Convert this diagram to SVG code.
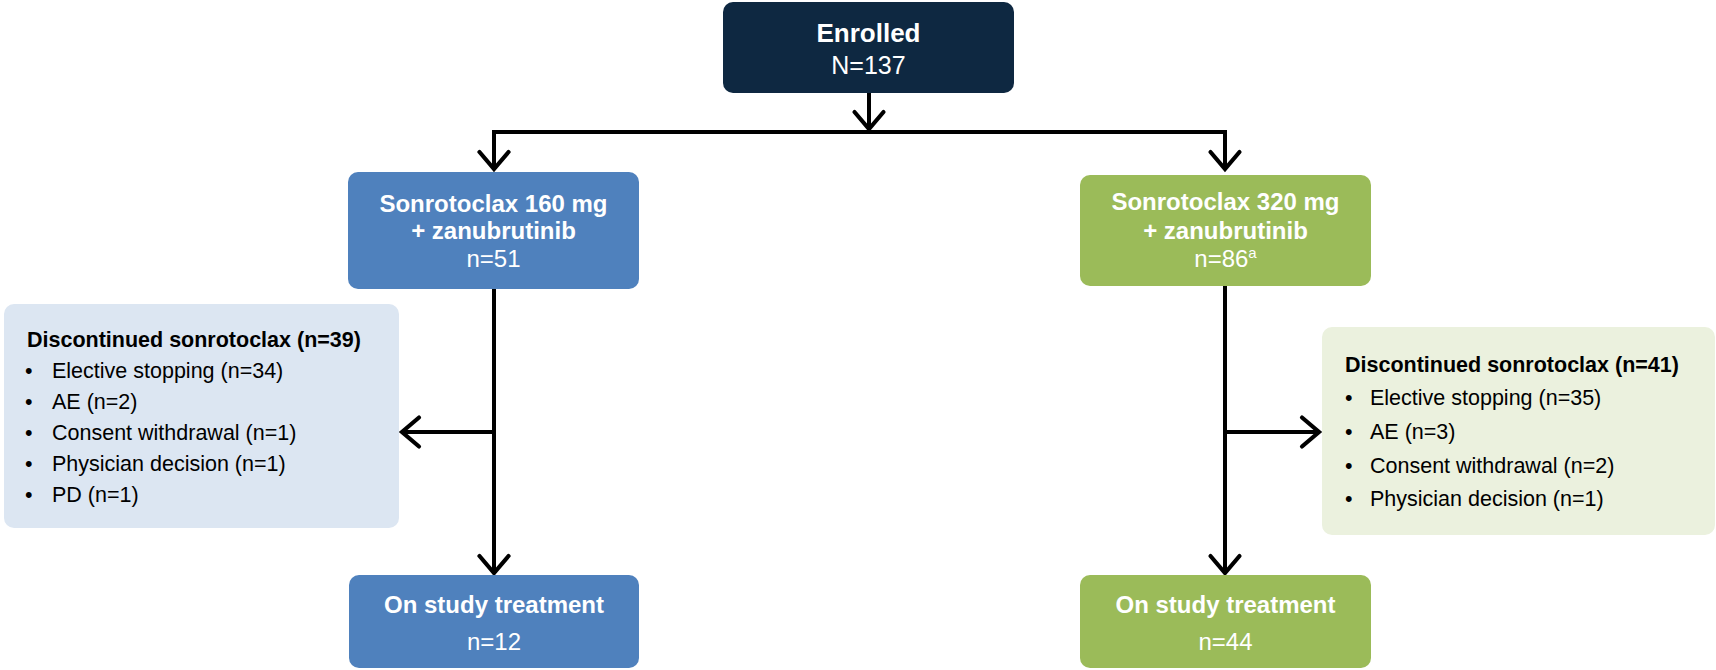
<svg xmlns="http://www.w3.org/2000/svg" width="1716" height="670" viewBox="0 0 1716 670">
<defs>
<style>
.t{font-family:"Liberation Sans",Arial,sans-serif;}
.w{fill:#ffffff;text-anchor:middle;}
.b{font-weight:bold;}
.lst{fill:#000000;font-size:21.5px;}
.conn{stroke:#000000;stroke-width:4;fill:none;stroke-linejoin:miter;}
</style>
<marker id="chev" viewBox="0 0 26 36" refX="20" refY="18" markerWidth="26" markerHeight="36" markerUnits="userSpaceOnUse" orient="auto">
<path d="M3,3.5 L20,18 L3,32.5" fill="none" stroke="#000000" stroke-width="4.2" stroke-linecap="round" stroke-linejoin="miter"/>
</marker>
</defs>
<rect width="1716" height="670" fill="#ffffff"/>

<g id="connectors">
<path class="conn" d="M869,93 V129" marker-end="url(#chev)"/>
<path class="conn" d="M869,132 H494 V169" marker-end="url(#chev)"/>
<path class="conn" d="M869,132 H1225 V169" marker-end="url(#chev)"/>
<path class="conn" d="M494,289 V573" marker-end="url(#chev)"/>
<path class="conn" d="M494,432 H402" marker-end="url(#chev)"/>
<path class="conn" d="M1225,286 V573" marker-end="url(#chev)"/>
<path class="conn" d="M1225,432 H1319" marker-end="url(#chev)"/>
</g>

<g id="enrolled">
<rect x="723" y="2" width="291" height="91" rx="10" fill="#0e2841"/>
<text class="t w b" x="868.5" y="42" font-size="26">Enrolled</text>
<text class="t w" x="868.5" y="74" font-size="25">N=137</text>
</g>

<g id="arm160">
<rect x="348" y="172" width="291" height="117" rx="10" fill="#4f81bd"/>
<text class="t w b" x="493.5" y="212" font-size="24">Sonrotoclax 160 mg</text>
<text class="t w b" x="493.5" y="239" font-size="24">+ zanubrutinib</text>
<text class="t w" x="493.5" y="267" font-size="24">n=51</text>
</g>

<g id="arm320">
<rect x="1080" y="175" width="291" height="111" rx="10" fill="#9bbb59"/>
<text class="t w b" x="1225.5" y="210" font-size="24">Sonrotoclax 320 mg</text>
<text class="t w b" x="1225.5" y="239" font-size="24">+ zanubrutinib</text>
<text class="t w" x="1225.5" y="267" font-size="24">n=86<tspan font-size="15" dy="-9">a</tspan></text>
</g>

<g id="disc160">
<rect x="4" y="304" width="395" height="224" rx="10" fill="#dce6f2"/>
<text class="t lst b" x="27" y="347">Discontinued sonrotoclax (n=39)</text>
<text class="t lst" x="25" y="378">•</text><text class="t lst" x="52" y="378">Elective stopping (n=34)</text>
<text class="t lst" x="25" y="409">•</text><text class="t lst" x="52" y="409">AE (n=2)</text>
<text class="t lst" x="25" y="440">•</text><text class="t lst" x="52" y="440">Consent withdrawal (n=1)</text>
<text class="t lst" x="25" y="471">•</text><text class="t lst" x="52" y="471">Physician decision (n=1)</text>
<text class="t lst" x="25" y="502">•</text><text class="t lst" x="52" y="502">PD (n=1)</text>
</g>

<g id="disc320">
<rect x="1322" y="327" width="393" height="208" rx="10" fill="#ebf1de"/>
<text class="t lst b" x="1345" y="372">Discontinued sonrotoclax (n=41)</text>
<text class="t lst" x="1345" y="405">•</text><text class="t lst" x="1370" y="405">Elective stopping (n=35)</text>
<text class="t lst" x="1345" y="439">•</text><text class="t lst" x="1370" y="439">AE (n=3)</text>
<text class="t lst" x="1345" y="473">•</text><text class="t lst" x="1370" y="473">Consent withdrawal (n=2)</text>
<text class="t lst" x="1345" y="506">•</text><text class="t lst" x="1370" y="506">Physician decision (n=1)</text>
</g>

<g id="ontx160">
<rect x="349" y="575" width="290" height="93" rx="10" fill="#4f81bd"/>
<text class="t w b" x="494" y="613" font-size="24">On study treatment</text>
<text class="t w" x="494" y="650" font-size="24">n=12</text>
</g>

<g id="ontx320">
<rect x="1080" y="575" width="291" height="93" rx="10" fill="#9bbb59"/>
<text class="t w b" x="1225.5" y="613" font-size="24">On study treatment</text>
<text class="t w" x="1225.5" y="650" font-size="24">n=44</text>
</g>
</svg>
